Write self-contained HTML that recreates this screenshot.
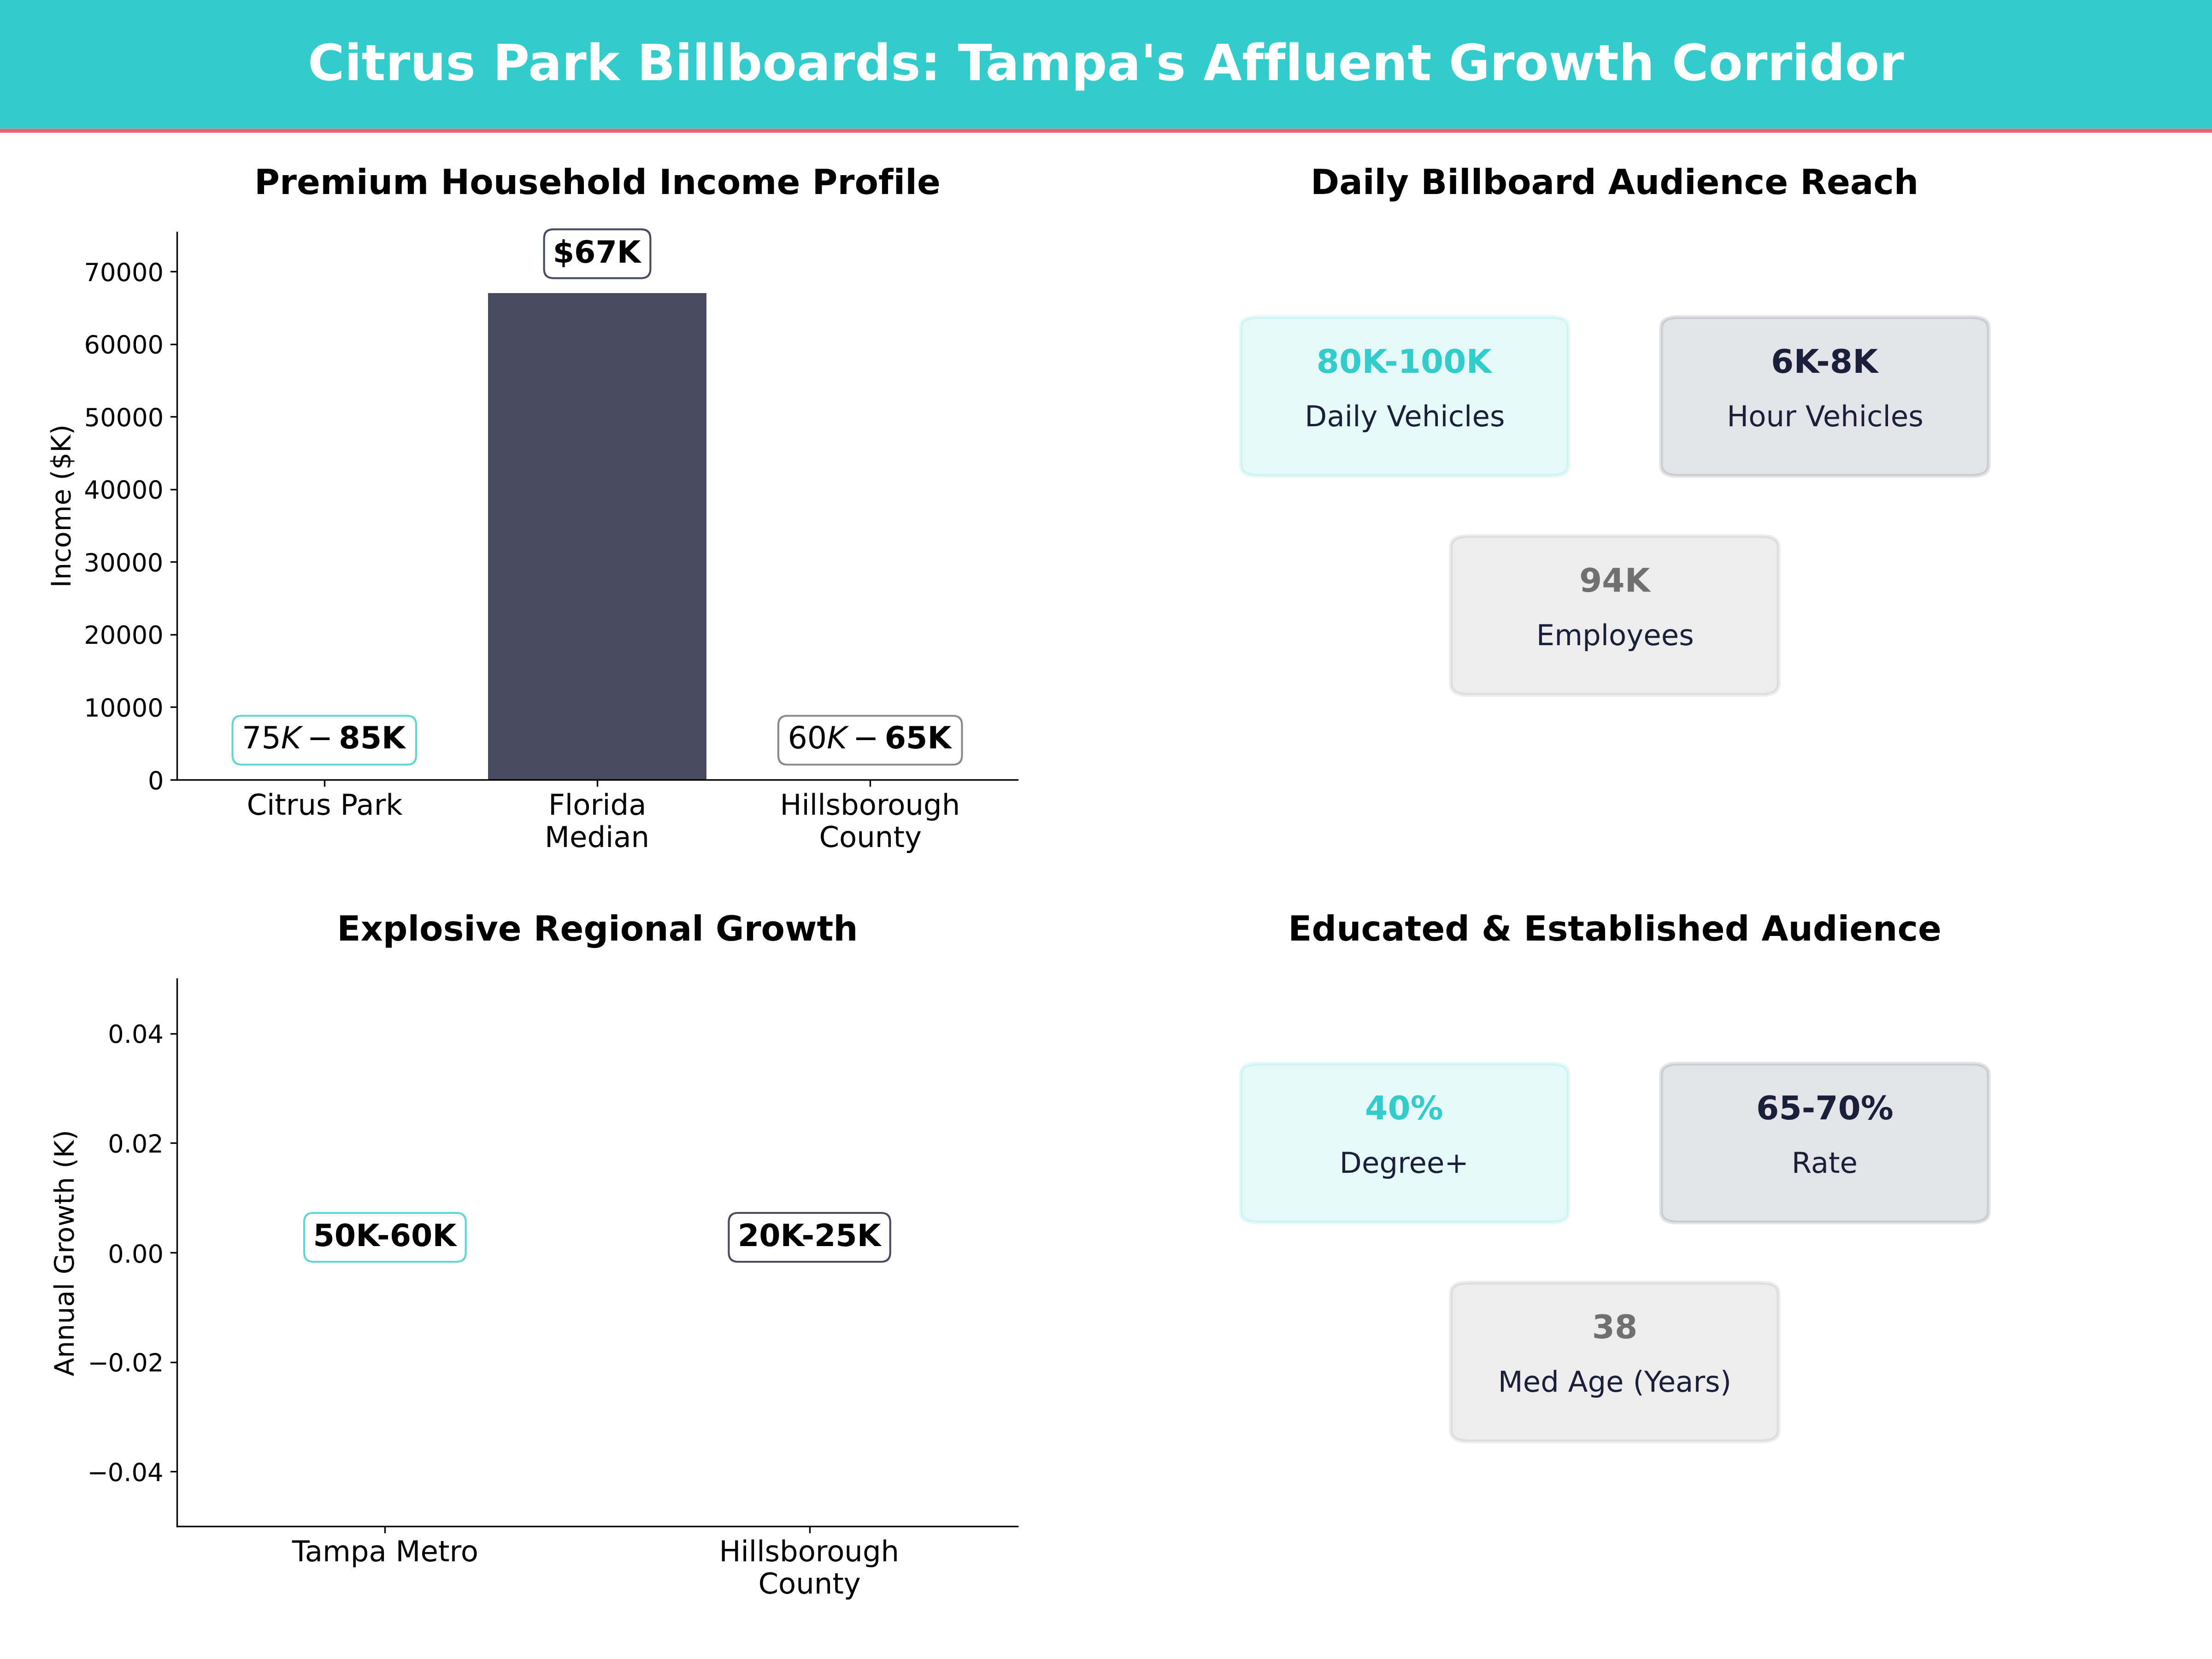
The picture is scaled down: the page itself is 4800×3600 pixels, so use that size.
<!DOCTYPE html>
<html lang="en"><head><meta charset="utf-8"><title>Citrus Park Billboards: Tampa's Affluent Growth Corridor</title>
<style>
html,body{margin:0;padding:0;background:#fff}
body{width:4800px;height:3600px;overflow:hidden}
svg{display:block;font-family:'DejaVu Sans','Liberation Sans',sans-serif;text-rendering:geometricPrecision}
text{white-space:pre;font-variant-ligatures:none;font-feature-settings:"liga" 0,"clig" 0,"dlig" 0}
</style></head><body>
<svg width="4800" height="3600" viewBox="0 0 4800 3600">
<rect x="0" y="0" width="4800" height="279.5" fill="#33CCCC"/>
<rect x="0" y="279.5" width="4800" height="8.5" fill="#F05D74"/>
<rect x="1059" y="636" width="474" height="1056" fill="#1a1f3a" fill-opacity="0.8"/>
<rect x="382.83" y="502.83" width="3.33" height="1191.33" fill="#000"/>
<rect x="382.83" y="1690.83" width="1827.33" height="3.33" fill="#000"/>
<rect x="702.83" y="1692.5" width="3.33" height="14.58" fill="#000"/>
<rect x="1294.83" y="1692.5" width="3.33" height="14.58" fill="#000"/>
<rect x="1886.83" y="1692.5" width="3.33" height="14.58" fill="#000"/>
<rect x="369.92" y="1690.83" width="14.58" height="3.33" fill="#000"/>
<rect x="369.92" y="1532.83" width="14.58" height="3.33" fill="#000"/>
<rect x="369.92" y="1375.83" width="14.58" height="3.33" fill="#000"/>
<rect x="369.92" y="1217.83" width="14.58" height="3.33" fill="#000"/>
<rect x="369.92" y="1060.83" width="14.58" height="3.33" fill="#000"/>
<rect x="369.92" y="902.83" width="14.58" height="3.33" fill="#000"/>
<rect x="369.92" y="745.83" width="14.58" height="3.33" fill="#000"/>
<rect x="369.92" y="587.83" width="14.58" height="3.33" fill="#000"/>
<rect x="382.83" y="2122.83" width="3.33" height="1191.33" fill="#000"/>
<rect x="382.83" y="3310.83" width="1827.33" height="3.33" fill="#000"/>
<rect x="833.83" y="3312.5" width="3.33" height="14.58" fill="#000"/>
<rect x="1755.83" y="3312.5" width="3.33" height="14.58" fill="#000"/>
<rect x="369.92" y="3191.83" width="14.58" height="3.33" fill="#000"/>
<rect x="369.92" y="2954.83" width="14.58" height="3.33" fill="#000"/>
<rect x="369.92" y="2716.83" width="14.58" height="3.33" fill="#000"/>
<rect x="369.92" y="2478.83" width="14.58" height="3.33" fill="#000"/>
<rect x="369.92" y="2241.83" width="14.58" height="3.33" fill="#000"/>
<path d="M2728.8 1032.66 L3367.2 1032.66 Q3403.68 1032.66 3403.68 1008.9 L3403.68 711.9 Q3403.68 688.14 3367.2 688.14 L2728.8 688.14 Q2692.32 688.14 2692.32 711.9 L2692.32 1008.9 Q2692.32 1032.66 2728.8 1032.66 Z" fill="#33CCCC" fill-opacity="0.12" stroke="#33CCCC" stroke-opacity="0.12" stroke-width="8.33" stroke-linejoin="miter"/>
<path d="M3640.8 1032.66 L4279.2 1032.66 Q4315.68 1032.66 4315.68 1008.9 L4315.68 711.9 Q4315.68 688.14 4279.2 688.14 L3640.8 688.14 Q3604.32 688.14 3604.32 711.9 L3604.32 1008.9 Q3604.32 1032.66 3640.8 1032.66 Z" fill="#1a1f3a" fill-opacity="0.12" stroke="#1a1f3a" stroke-opacity="0.12" stroke-width="8.33" stroke-linejoin="miter"/>
<path d="M3184.8 1507.86 L3823.2 1507.86 Q3859.68 1507.86 3859.68 1484.1 L3859.68 1187.1 Q3859.68 1163.34 3823.2 1163.34 L3184.8 1163.34 Q3148.32 1163.34 3148.32 1187.1 L3148.32 1484.1 Q3148.32 1507.86 3184.8 1507.86 Z" fill="#6e6e6e" fill-opacity="0.12" stroke="#6e6e6e" stroke-opacity="0.12" stroke-width="8.33" stroke-linejoin="miter"/>
<path d="M2728.8 2652.66 L3367.2 2652.66 Q3403.68 2652.66 3403.68 2628.9 L3403.68 2331.9 Q3403.68 2308.14 3367.2 2308.14 L2728.8 2308.14 Q2692.32 2308.14 2692.32 2331.9 L2692.32 2628.9 Q2692.32 2652.66 2728.8 2652.66 Z" fill="#33CCCC" fill-opacity="0.12" stroke="#33CCCC" stroke-opacity="0.12" stroke-width="8.33" stroke-linejoin="miter"/>
<path d="M3640.8 2652.66 L4279.2 2652.66 Q4315.68 2652.66 4315.68 2628.9 L4315.68 2331.9 Q4315.68 2308.14 4279.2 2308.14 L3640.8 2308.14 Q3604.32 2308.14 3604.32 2331.9 L3604.32 2628.9 Q3604.32 2652.66 3640.8 2652.66 Z" fill="#1a1f3a" fill-opacity="0.12" stroke="#1a1f3a" stroke-opacity="0.12" stroke-width="8.33" stroke-linejoin="miter"/>
<path d="M3184.8 3127.86 L3823.2 3127.86 Q3859.68 3127.86 3859.68 3104.1 L3859.68 2807.1 Q3859.68 2783.34 3823.2 2783.34 L3184.8 2783.34 Q3148.32 2783.34 3148.32 2807.1 L3148.32 3104.1 Q3148.32 3127.86 3184.8 3127.86 Z" fill="#6e6e6e" fill-opacity="0.12" stroke="#6e6e6e" stroke-opacity="0.12" stroke-width="8.33" stroke-linejoin="miter"/>
<path d="M524.5 1553.22 L883.09 1553.22 Q903.09 1553.22 903.09 1573.22 L903.09 1639.22 Q903.09 1659.22 883.09 1659.22 L524.5 1659.22 Q504.5 1659.22 504.5 1639.22 L504.5 1573.22 Q504.5 1553.22 524.5 1553.22 Z" fill="#fff" fill-opacity="0.8" stroke="#33CCCC" stroke-opacity="0.8" stroke-width="4.17"/>
<path d="M1200.62 497.57 L1391.38 497.57 Q1411.38 497.57 1411.38 517.57 L1411.38 583.57 Q1411.38 603.57 1391.38 603.57 L1200.62 603.57 Q1180.62 603.57 1180.62 583.57 L1180.62 517.57 Q1180.62 497.57 1200.62 497.57 Z" fill="#fff" fill-opacity="0.8" stroke="#1a1f3a" stroke-opacity="0.8" stroke-width="4.17"/>
<path d="M1708.91 1553.22 L2067.5 1553.22 Q2087.5 1553.22 2087.5 1573.22 L2087.5 1639.22 Q2087.5 1659.22 2067.5 1659.22 L1708.91 1659.22 Q1688.91 1659.22 1688.91 1639.22 L1688.91 1573.22 Q1688.91 1553.22 1708.91 1553.22 Z" fill="#fff" fill-opacity="0.8" stroke="#6e6e6e" stroke-opacity="0.8" stroke-width="4.17"/>
<path d="M680.08 2632 L990.71 2632 Q1010.71 2632 1010.71 2652 L1010.71 2718 Q1010.71 2738 990.71 2738 L680.08 2738 Q660.08 2738 660.08 2718 L660.08 2652 Q660.08 2632 680.08 2632 Z" fill="#fff" fill-opacity="0.8" stroke="#33CCCC" stroke-opacity="0.8" stroke-width="4.17"/>
<path d="M1601.42 2632 L1911.79 2632 Q1931.79 2632 1931.79 2652 L1931.79 2718 Q1931.79 2738 1911.79 2738 L1601.42 2738 Q1581.42 2738 1581.42 2718 L1581.42 2652 Q1581.42 2632 1601.42 2632 Z" fill="#fff" fill-opacity="0.8" stroke="#1a1f3a" stroke-opacity="0.8" stroke-width="4.17"/>
<text x="535.4" y="1768" font-size="62.5" font-weight="400" fill="#000000" textLength="338.12">Citrus Park</text>
<text x="1189.9" y="1768" font-size="62.5" font-weight="400" fill="#000000" textLength="212.62">Florida</text>
<text x="1182.11" y="1838" font-size="62.5" font-weight="400" fill="#000000" textLength="227.12">Median</text>
<text x="1692.51" y="1768" font-size="62.5" font-weight="400" fill="#000000" textLength="390.75">Hillsborough</text>
<text x="1777.51" y="1838" font-size="62.5" font-weight="400" fill="#000000" textLength="222.38">County</text>
<text x="320.95" y="1713" font-size="54.17" font-weight="400" fill="#000000">0</text>
<text x="182.17" y="1555" font-size="54.17" font-weight="400" fill="#000000" textLength="172.5">10000</text>
<text x="182.35" y="1397" font-size="54.17" font-weight="400" fill="#000000" textLength="172.38">20000</text>
<text x="181.77" y="1240" font-size="54.17" font-weight="400" fill="#000000" textLength="172.5">30000</text>
<text x="182.34" y="1082" font-size="54.17" font-weight="400" fill="#000000" textLength="172.5">40000</text>
<text x="182.83" y="925" font-size="54.17" font-weight="400" fill="#000000" textLength="172.5">50000</text>
<text x="182.47" y="767" font-size="54.17" font-weight="400" fill="#000000" textLength="172.38">60000</text>
<text x="182.51" y="610" font-size="54.17" font-weight="400" fill="#000000" textLength="172.5">70000</text>
<text transform="translate(153 1275.29) rotate(-90)" font-size="58.33" font-weight="400" fill="#000000" textLength="354.38">Income ($K)</text>
<text y="1624" font-size="66.67" fill="#000000"><tspan x="525.07">7</tspan><tspan x="567.46">5</tspan><tspan x="609.84" font-style="italic">K</tspan><tspan x="666.51">−</tspan><tspan x="735.32" font-weight="700">8</tspan><tspan x="781.68" font-weight="700">5</tspan><tspan x="828.03" font-weight="700">K</tspan></text>
<text x="1199.74" y="570" font-size="66.67" font-weight="700" fill="#000000" textLength="190.75">$67K</text>
<text y="1624" font-size="66.67" fill="#000000"><tspan x="1709.44">6</tspan><tspan x="1751.83">0</tspan><tspan x="1794.22" font-style="italic">K</tspan><tspan x="1850.89">−</tspan><tspan x="1919.7" font-weight="700">6</tspan><tspan x="1966.05" font-weight="700">5</tspan><tspan x="2012.41" font-weight="700">K</tspan></text>
<text x="552.08" y="421" font-size="75" font-weight="700" fill="#000000" textLength="1488.75">Premium Household Income Profile</text>
<text x="2856.77" y="809" font-size="70.83" font-weight="700" fill="#33cccc" textLength="379.75">80K-100K</text>
<text x="2831.33" y="925" font-size="62.5" font-weight="400" fill="#1a1f3a" textLength="434.12">Daily Vehicles</text>
<text x="3843" y="809" font-size="70.83" font-weight="700" fill="#1a1f3a" textLength="232.12">6K-8K</text>
<text x="3747.34" y="925" font-size="62.5" font-weight="400" fill="#1a1f3a" textLength="426.5">Hour Vehicles</text>
<text x="3426.96" y="1284" font-size="70.83" font-weight="700" fill="#707070" textLength="153.62">94K</text>
<text x="3333.73" y="1400" font-size="62.5" font-weight="400" fill="#1a1f3a" textLength="342">Employees</text>
<text x="2844.06" y="421" font-size="75" font-weight="700" fill="#000000" textLength="1319.12">Daily Billboard Audience Reach</text>
<text x="633.82" y="3388" font-size="62.5" font-weight="400" fill="#000000" textLength="404.12">Tampa Metro</text>
<text x="1560.49" y="3388" font-size="62.5" font-weight="400" fill="#000000" textLength="390.75">Hillsborough</text>
<text x="1645.49" y="3458" font-size="62.5" font-weight="400" fill="#000000" textLength="222.38">County</text>
<text y="3214" font-size="54.17" font-weight="400" fill="#000000"><tspan x="189.61">−</tspan><tspan x="233.7" textLength="120.73">0.04</tspan></text>
<text y="2976" font-size="54.17" font-weight="400" fill="#000000"><tspan x="190.42">−</tspan><tspan x="234.51" textLength="120.61">0.02</tspan></text>
<text x="234.28" y="2740" font-size="54.17" font-weight="400" fill="#000000" textLength="120.75">0.00</text>
<text x="234.14" y="2501" font-size="54.17" font-weight="400" fill="#000000" textLength="120.62">0.02</text>
<text x="234.29" y="2263" font-size="54.17" font-weight="400" fill="#000000" textLength="120.75">0.04</text>
<text transform="translate(160 2986.62) rotate(-90)" font-size="58.33" font-weight="400" fill="#000000" textLength="535">Annual Growth (K)</text>
<text x="679.49" y="2704" font-size="66.67" font-weight="700" fill="#000000" textLength="310.62">50K-60K</text>
<text x="1600.95" y="2704" font-size="66.67" font-weight="700" fill="#000000" textLength="310.38">20K-25K</text>
<text x="731.16" y="2041" font-size="75" font-weight="700" fill="#000000" textLength="1130.5">Explosive Regional Growth</text>
<text x="2962.11" y="2429" font-size="70.83" font-weight="700" fill="#33cccc" textLength="169.62">40%</text>
<text x="2906.81" y="2545" font-size="62.5" font-weight="400" fill="#1a1f3a" textLength="280">Degree+</text>
<text x="3811.09" y="2429" font-size="70.83" font-weight="700" fill="#1a1f3a" textLength="297.75">65-70%</text>
<text x="3887.71" y="2545" font-size="62.5" font-weight="400" fill="#1a1f3a" textLength="143.25">Rate</text>
<text x="3454.72" y="2904" font-size="70.83" font-weight="700" fill="#707070" textLength="98.62">38</text>
<text x="3250.79" y="3020" font-size="62.5" font-weight="400" fill="#1a1f3a" textLength="506.25">Med Age (Years)</text>
<text x="2795.26" y="2041" font-size="75" font-weight="700" fill="#000000" textLength="1417.5">Educated &amp; Established Audience</text>
<text x="668.1" y="174" font-size="108.33" font-weight="700" fill="#ffffff" textLength="3463.5">Citrus Park Billboards: Tampa's Affluent Growth Corridor</text>
</svg>
</body></html>
